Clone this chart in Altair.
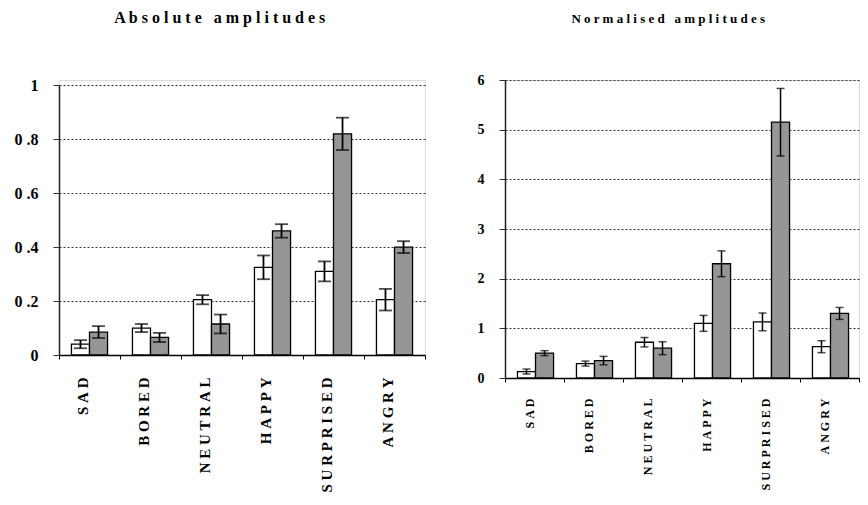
import altair as alt
import pandas as pd

categories = ["SAD", "BORED", "NEUTRAL", "HAPPY", "SURPRISED", "ANGRY"]
series = ["a", "b"]

abs_white = [0.04, 0.10, 0.205, 0.325, 0.31, 0.205]
abs_white_err = [0.015, 0.015, 0.017, 0.044, 0.037, 0.04]
abs_grey = [0.085, 0.065, 0.115, 0.46, 0.82, 0.40]
abs_grey_err = [0.022, 0.017, 0.035, 0.025, 0.06, 0.022]

norm_white = [0.13, 0.29, 0.72, 1.10, 1.13, 0.63]
norm_white_err = [0.05, 0.05, 0.095, 0.16, 0.18, 0.12]
norm_grey = [0.50, 0.35, 0.60, 2.30, 5.15, 1.30]
norm_grey_err = [0.05, 0.085, 0.13, 0.26, 0.68, 0.12]

abs_ticks = [0, 0.2, 0.4, 0.6, 0.8, 1]
norm_ticks = [0, 1, 2, 3, 4, 5, 6]

FONT = "Liberation Serif, Times New Roman, serif"
NB = "\u00a0"


def spaced_title(text):
    return (NB * 3).join(" ".join(list(w)) for w in text.split(" "))


def build_df(white, white_err, grey, grey_err):
    rows = []
    for i, c in enumerate(categories):
        rows.append(dict(cat=c, series="a", value=white[i],
                         lo=white[i] - white_err[i], hi=white[i] + white_err[i]))
        rows.append(dict(cat=c, series="b", value=grey[i],
                         lo=grey[i] - grey_err[i], hi=grey[i] + grey_err[i]))
    return pd.DataFrame(rows)


def panel(df, title, title_size, title_offset, ymax, ticks, yrange, width, height,
          grey, ylab_size, ylab_pad, xlab_size, xlab_offset, xlab_pad,
          cap, ew, ylabel_expr=None):
    xscale = alt.Scale(paddingInner=0, paddingOuter=0)
    xs = alt.X("cat:N", sort=categories, title=None, scale=xscale,
               axis=alt.Axis(labelAngle=270, labelFont=FONT, labelFontWeight="bold",
                             labelFontSize=xlab_size, labelColor="black",
                             labelExpr="join(split(datum.label, ''), '" + NB + "')",
                             labelOffset=xlab_offset, labelPadding=xlab_pad,
                             tickBand="extent", ticks=True, tickSize=4,
                             tickColor="black", tickWidth=1,
                             domain=True, domainColor="black", domainWidth=1.5,
                             grid=False))
    xo = alt.XOffset("series:N", sort=series,
                     scale=alt.Scale(paddingInner=0, paddingOuter=0.69))
    yaxis = dict(values=ticks, format="~g", labelFont=FONT, labelFontWeight="bold",
                 labelFontSize=ylab_size, labelColor="black", labelPadding=ylab_pad,
                 tickSize=6, tickColor="#333", tickWidth=1,
                 domainColor="#222", domainWidth=1.5,
                 grid=True, gridColor="#333", gridDash=[2, 2], gridWidth=1)
    if ylabel_expr:
        yaxis["labelExpr"] = ylabel_expr
    yscale = alt.Scale(domain=[0, ymax], range=yrange, nice=False, zero=True)
    ys = alt.Y("value:Q", title=None, scale=yscale, axis=alt.Axis(**yaxis))

    bars = alt.Chart(df).mark_bar(stroke="black", strokeWidth=1.3).encode(
        x=xs, xOffset=xo, y=ys,
        fill=alt.Fill("series:N", scale=alt.Scale(domain=series, range=["white", grey]),
                      legend=None),
    )
    rules = alt.Chart(df).mark_rule(color="black", strokeWidth=ew).encode(
        x=alt.X("cat:N", sort=categories, scale=xscale), xOffset=xo,
        y=alt.Y("lo:Q", scale=yscale), y2="hi:Q",
    )
    cap_lo = alt.Chart(df).mark_tick(color="black", thickness=ew, size=cap).encode(
        x=alt.X("cat:N", sort=categories, scale=xscale), xOffset=xo,
        y=alt.Y("lo:Q", scale=yscale),
    )
    cap_hi = alt.Chart(df).mark_tick(color="black", thickness=ew, size=cap).encode(
        x=alt.X("cat:N", sort=categories, scale=xscale), xOffset=xo,
        y=alt.Y("hi:Q", scale=yscale),
    )
    return alt.layer(bars, rules, cap_lo, cap_hi).properties(
        width=width, height=height,
        title=alt.TitleParams(text=title, font=FONT, fontWeight="bold",
                              fontSize=title_size, color="black", anchor="middle",
                              frame="bounds", offset=title_offset),
    )


abs_df = build_df(abs_white, abs_white_err, abs_grey, abs_grey_err)
norm_df = build_df(norm_white, norm_white_err, norm_grey, norm_grey_err)

left = panel(abs_df, spaced_title("Absolute amplitudes"), 16, 51,
             1, abs_ticks, [275, 5.3], 366, 275, "#969696",
             16, 15, 15, -7, 18, 13, 1.8,
             ylabel_expr="replace(datum.label, '.', ' .')")
right = panel(norm_df, spaced_title("Normalised amplitudes"), 13, 47,
              6, norm_ticks, [298, 0], 354, 298, "#808080",
              14, 15, 12, -5, 16, 8, 1.5)

chart = alt.hconcat(left, right, spacing=50).configure_view(stroke=None).configure(
    background="white").properties(padding={"top": 1, "left": 5, "right": 0, "bottom": 0})

chart.save("out.html", embed_options={"renderer": "svg", "actions": False})
